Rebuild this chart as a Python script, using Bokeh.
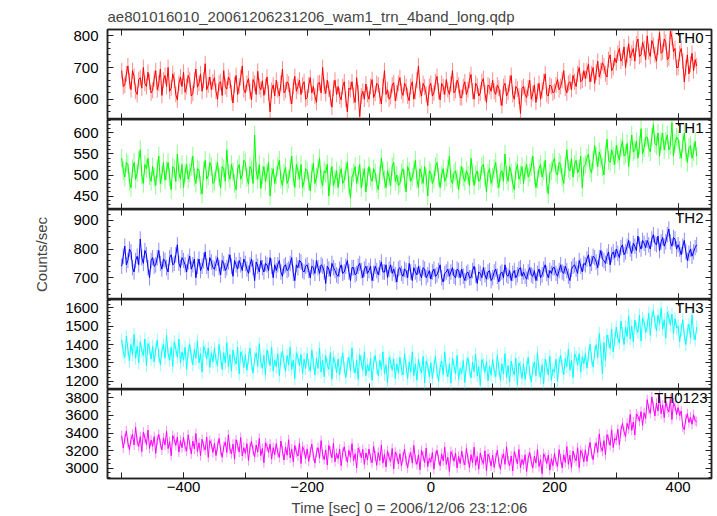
from bokeh.plotting import figure
from bokeh.models import LinearAxis, SingleIntervalTicker, Range1d, Label
from bokeh.layouts import column
from bokeh.embed import file_html
from bokeh.resources import INLINE

# ---- data (2.5 s sampling) ----
times = [-500 + 2.5 * k for k in range(373)]

th0 = [
    690,640, 645,680, 705,658, 630,690, 672,625, 615,662, 668,635, 700,650, 640,685, 655,620,
    628,665, 690,630, 650,695, 612,660, 675,640, 700,625, 635,680, 660,615, 598,650, 670,640,
    685,622, 640,675, 662,610, 618,660, 695,638, 650,680, 625,660, 712,630, 645,670, 630,655,
    668,625, 600,650, 655,612, 690,640, 632,670, 660,620, 588,645, 675,615, 642,668, 705,630,
    620,650, 665,625, 598,662, 650,615, 688,640, 630,658, 612,640, 670,620, 560,628, 645,610,
    660,630, 610,650, 695,620, 628,655, 648,610, 585,640, 672,625, 640,660, 615,645, 655,600,
    605,645, 668,620, 640,610, 590,650, 652,620, 700,640, 618,660, 632,605, 575,635, 660,615,
    640,610, 598,640, 655,600, 560,635, 630,655, 612,590, 668,620, 545,610, 625,600, 648,615,
    600,640, 662,605, 618,650, 645,610, 585,640, 690,615, 630,600, 608,645, 652,595, 620,650,
    668,625, 612,650, 640,610, 595,640, 655,600, 625,660, 705,630, 610,650, 638,615, 580,640,
    650,610, 620,655, 672,625, 598,650, 640,615, 662,630, 615,648, 690,620, 628,660, 645,605,
    605,640, 655,615, 630,660, 678,625, 600,650, 642,610, 620,655, 665,620, 590,645, 640,625,
    660,625, 615,645, 635,605, 580,640, 650,610, 622,650, 675,615, 600,640, 632,610, 555,635,
    640,615, 605,635, 660,600, 618,645, 590,625, 650,600, 628,655, 680,615, 610,645, 640,620,
    625,645, 662,630, 640,660, 690,635, 620,650, 655,630, 675,655, 640,680, 700,655, 660,690,
    665,690, 710,655, 680,700, 650,685, 720,670, 690,715, 705,680, 670,725, 740,690, 700,730,
    715,745, 760,720, 730,765, 700,740, 775,730, 745,760, 720,775, 790,735, 740,780, 760,725,
    800,750, 735,785, 770,740, 720,765, 810,745, 750,790, 780,725, 730,815, 795,750, 760,700,
    700,745, 760,720, 655,700, 740,680, 710,745, 690,725, 705,
]
th1 = [
    540,510, 495,530, 525,485, 470,515, 530,490, 505,535, 560,500, 480,525, 515,540, 498,485,
    520,495, 475,515, 545,480, 500,530, 488,510, 530,495, 465,520, 515,485, 550,505, 490,525,
    470,505, 525,490, 505,520, 545,495, 480,515, 512,475, 455,510, 535,490, 498,530, 520,480,
    485,510, 530,495, 470,520, 515,485, 560,505, 490,525, 508,480, 465,515, 525,490, 500,535,
    530,495, 478,520, 512,480, 595,510, 490,525, 468,500, 520,485, 505,530, 450,495, 515,480,
    500,520, 535,490, 475,505, 518,480, 490,515, 545,495, 470,525, 510,490, 525,470, 485,515,
    510,485, 462,505, 528,480, 495,515, 540,490, 475,510, 505,525, 450,495, 520,475, 490,510,
    470,500, 515,480, 488,510, 530,475, 445,495, 505,520, 480,500, 525,470, 495,515, 460,495,
    520,495, 485,515, 505,480, 465,500, 540,510, 490,470, 510,495, 475,520, 530,485, 500,475,
    480,505, 515,490, 460,520, 508,485, 495,510, 535,490, 470,515, 500,480, 520,495, 450,510,
    505,480, 490,520, 530,495, 470,500, 515,485, 495,515, 545,490, 480,505, 510,490, 465,500,
    520,495, 485,510, 500,475, 540,505, 475,500, 510,485, 490,520, 525,495, 460,505, 515,480,
    495,515, 530,490, 470,505, 510,485, 550,500, 485,520, 505,480, 465,510, 525,490, 500,520,
    480,510, 525,495, 505,520, 545,500, 470,490, 515,525, 495,510, 535,480, 455,505, 510,530,
    540,505, 500,530, 525,495, 480,520, 560,515, 510,540, 495,525, 535,505, 515,545, 470,520,
    525,540, 550,515, 505,535, 570,545, 520,555, 540,520, 500,550, 585,535, 530,560, 545,525,
    570,550, 535,565, 580,545, 550,575, 520,560, 595,555, 560,580, 540,570, 610,550, 565,590,
    590,565, 555,590, 620,575, 570,600, 545,580, 600,560, 580,595, 560,570, 625,545, 575,590,
    585,560, 540,575, 600,555, 530,565, 570,540, 555,580, 545,
]
th2 = [
    740,775, 810,745, 760,800, 790,735, 720,760, 775,745, 835,770, 750,795, 780,735, 700,760,
    770,740, 745,770, 795,750, 730,765, 760,735, 720,770, 780,745, 750,780, 815,750, 735,770,
    760,745, 720,755, 775,730, 745,765, 700,740, 765,725, 740,760, 790,740, 725,770, 755,735,
    730,750, 770,735, 710,760, 750,725, 735,755, 780,740, 705,760, 745,730, 760,745, 725,765,
    750,730, 715,745, 765,735, 690,755, 740,720, 760,735, 720,750, 745,725, 770,740, 700,745,
    725,745, 760,720, 705,740, 745,725, 730,750, 770,715, 690,745, 735,760, 755,725, 720,740,
    745,725, 700,740, 735,715, 760,735, 715,745, 740,720, 680,740, 730,705, 750,735, 725,710,
    705,730, 745,715, 720,740, 760,720, 690,735, 735,710, 715,740, 750,725, 700,730, 740,715,
    725,740, 690,715, 740,725, 710,735, 755,720, 720,745, 700,730, 745,715, 730,710, 685,730,
    735,715, 705,730, 725,700, 750,720, 690,735, 720,710, 740,715, 700,735, 730,700, 710,725,
    695,720, 730,705, 710,725, 745,700, 685,715, 720,730, 705,720, 735,705, 700,730, 725,700,
    730,705, 690,715, 720,700, 700,725, 740,710, 680,720, 715,700, 735,710, 695,720, 725,690,
    700,720, 730,705, 685,715, 720,700, 745,710, 705,725, 690,715, 725,700, 710,730, 735,705,
    720,705, 695,720, 735,710, 705,725, 690,715, 730,700, 710,730, 745,715, 700,725, 715,735,
    735,715, 705,725, 745,720, 715,740, 725,705, 690,730, 740,745, 730,715, 760,740, 720,750,
    745,765, 780,740, 750,775, 770,755, 735,770, 795,765, 760,750, 775,790, 745,780, 790,770,
    800,785, 770,805, 815,780, 790,810, 830,800, 785,820, 810,795, 845,815, 800,830, 820,805,
    830,815, 800,835, 850,820, 815,845, 795,825, 840,810, 825,850, 870,825, 810,840, 835,800,
    815,800, 780,810, 830,790, 760,785, 800,775, 790,805, 815,
]
th3 = [
    1425,1360,1330,1445,1375,1310,1400,1345,1455,1325,1390,1300,1415,1365,1340,1430,1285,1405,1380,1320,
    1390,1305,1370,1425,1340,1290,1365,1400,1325,1450,1350,1315,1385,1280,1415,1375,1330,1430,1300,1360,
    1315,1385,1265,1360,1400,1335,1290,1375,1325,1420,1300,1350,1250,1390,1365,1320,1380,1275,1355,1305,
    1380,1315,1285,1400,1330,1265,1355,1300,1410,1280,1345,1255,1370,1320,1295,1385,1240,1360,1335,1275,
    1345,1260,1325,1380,1295,1245,1320,1355,1280,1405,1305,1270,1340,1235,1370,1330,1285,1385,1255,1315,
    1280,1350,1230,1325,1365,1300,1255,1340,1290,1385,1265,1315,1215,1355,1330,1285,1345,1240,1320,1270,
    1350,1285,1255,1370,1300,1235,1325,1270,1380,1250,1315,1225,1340,1290,1265,1355,1210,1330,1305,1245,
    1320,1235,1300,1355,1270,1220,1295,1330,1255,1380,1280,1245,1315,1210,1345,1305,1260,1360,1230,1290,
    1255,1325,1205,1300,1340,1275,1230,1315,1265,1360,1240,1290,1190,1330,1305,1260,1320,1215,1295,1245,
    1330,1265,1235,1350,1280,1215,1305,1250,1360,1230,1295,1205,1320,1270,1245,1335,1190,1310,1285,1225,
    1300,1215,1280,1335,1250,1200,1275,1310,1235,1360,1260,1225,1295,1190,1325,1285,1240,1340,1210,1270,
    1243,1313,1193,1288,1328,1263,1218,1303,1253,1348,1228,1278,1178,1318,1293,1248,1308,1203,1283,1233,
    1320,1255,1225,1340,1270,1205,1295,1240,1350,1220,1285,1195,1310,1260,1235,1325,1180,1300,1275,1215,
    1295,1210,1275,1330,1245,1195,1270,1305,1230,1355,1255,1220,1290,1185,1320,1280,1235,1335,1205,1265,
    1250,1320,1200,1300,1340,1280,1235,1325,1280,1375,1260,1315,1220,1350,1330,1290,1350,1250,1335,1295,
    1350,1271,1341,1402,1322,1278,1358,1399,1329,1460,1365,1240,1411,1312,1452,1418,1378,1484,1359,1425,
    1495,1434,1408,1527,1461,1400,1494,1443,1557,1431,1500,1414,1533,1487,1466,1560,1419,1543,1522,1466,
    1500,1570,1450,1545,1585,1520,1475,1560,1510,1598,1485,1535,1435,1575,1550,1505,1565,1460,1540,1490,
    1500,1415,1480,1535,1450,1400,1475,1510,1435,1560,1460,1425,1495,
]
th0123 = [
    3370,3230,3335,3425,3290,3210,3330,3385,3265,3465,3305,3250,3360,3190,3410,3345,3270,3435,3225,3320,
    3250,3360,3170,3320,3385,3280,3210,3345,3265,3420,3225,3305,3145,3370,3330,3260,3355,3185,3315,3235,
    3350,3245,3195,3380,3270,3165,3310,3220,3395,3190,3290,3145,3330,3250,3210,3355,3125,3315,3275,3180,
    3285,3145,3250,3340,3205,3125,3245,3300,3180,3380,3220,3165,3275,3105,3325,3260,3185,3350,3140,3235,
    3170,3280,3090,3240,3305,3200,3130,3265,3185,3340,3145,3225,3065,3290,3250,3180,3275,3105,3235,3155,
    3280,3175,3125,3310,3200,3095,3240,3150,3325,3120,3220,3075,3260,3180,3140,3285,3055,3245,3205,3110,
    3220,3080,3185,3275,3140,3060,3180,3235,3115,3315,3155,3100,3210,3040,3260,3195,3120,3285,3075,3170,
    3110,3220,3030,3180,3245,3140,3070,3205,3125,3280,3085,3165,3005,3230,3190,3120,3215,3045,3175,3095,
    3220,3115,3065,3250,3140,3035,3180,3090,3265,3060,3160,3015,3200,3120,3080,3225,2995,3185,3145,3050,
    3165,3025,3130,3220,3085,3005,3125,3180,3060,3260,3100,3045,3155,2985,3205,3140,3065,3230,3020,3115,
    3070,3180,2990,3140,3205,3100,3030,3165,3085,3240,3045,3125,2965,3190,3150,3080,3175,3005,3135,3055,
    3195,3090,3040,3225,3115,3010,3155,3065,3240,3035,3135,2990,3175,3095,3055,3200,2970,3160,3120,3025,
    3150,3010,3115,3205,3070,2990,3110,3165,3045,3245,3085,3030,3140,2970,3190,3125,3050,3215,3005,3100,
    3045,3155,2965,3115,3180,3075,3005,3140,3060,3215,3020,3100,2940,3165,3125,3055,3150,2980,3110,3030,
    3170,3069,3023,3212,3106,3005,3154,3068,3247,3046,3150,3009,3198,3122,3086,3235,3009,3203,3167,3076,
    3210,3080,3194,3294,3168,3098,3227,3292,3181,3391,3240,3195,3314,3154,3383,3328,3262,3437,3236,3341,
    3320,3444,3267,3431,3510,3418,3362,3511,3445,3613,3432,3526,3379,3618,3592,3536,3644,3488,3632,3565,
    3780,3675,3625,3810,3700,3595,3740,3650,3825,3620,3720,3575,3760,3680,3640,3785,3555,3745,3705,3610,
    3690,3600,3650,3470,3440,3560,3620,3520,3580,3500,3610,3540,3530,
]

panel_names = ["TH0", "TH1", "TH2", "TH3", "TH0123"]
panel_series = [th0, th1, th2, th3, th0123]
panel_errors = [25, 22, 27, 36, 57]   # 1-sigma error bar half-length (counts/sec)
panel_colors = ["#ff0000", "#00ff00", "#0000ff", "#00ffff", "#ff00ff"]
panel_yranges = [(536, 820), (418, 632), (624, 938), (1155, 1645), (2885, 3895)]
panel_yticks = [(100, 5), (50, 5), (100, 5), (100, 5), (200, 4)]

title_text = "ae801016010_20061206231206_wam1_trn_4band_long.qdp"
x_label = "Time [sec] 0 = 2006/12/06 23:12:06"
y_label = "Counts/sec"
x_range = (-523, 454)

FONT = "Liberation Sans"
FS = "15px"
AX = "#222222"
FRAME_W = 604


def style(ax, labels, interval, minor, minor_len=3):
    ax.ticker = SingleIntervalTicker(interval=interval, num_minor_ticks=minor)
    ax.axis_line_color = AX
    ax.axis_line_width = 1.5
    ax.major_tick_line_color = AX
    ax.minor_tick_line_color = AX
    ax.major_tick_in = 6
    ax.major_tick_out = 0
    ax.minor_tick_in = minor_len
    ax.minor_tick_out = 0
    ax.major_label_text_font = FONT
    ax.major_label_text_color = "black"
    if labels:
        ax.major_label_text_font_size = FS
    else:
        ax.major_label_text_font_size = "0px"
        ax.major_label_text_color = None
        ax.major_label_standoff = 0


figs = []
n = len(panel_names)
for i in range(n):
    first = i == 0
    last = i == n - 1
    fh = 90 if not last else 89
    p = figure(
        frame_width=FRAME_W,
        frame_height=fh,
        output_backend="svg",
        toolbar_location=None,
        x_axis_location=None,
        y_axis_location=None,
        min_border_left=107,
        min_border_right=6,
        min_border_top=27 if first else 0,
        min_border_bottom=0,
        background_fill_color="white",
        border_fill_color="white",
        outline_line_color=AX,
        outline_line_width=1.5,
    )
    p.x_range = Range1d(*x_range)
    p.y_range = Range1d(*panel_yranges[i])
    p.xgrid.visible = False
    p.ygrid.visible = False

    if first:
        p.title.text = title_text
        p.title.text_font = FONT
        p.title.text_font_size = FS
        p.title.text_font_style = "normal"
        p.title.standoff = 10
        p.title.offset = 0

    left = LinearAxis()
    style(left, True, *panel_yticks[i])
    left.major_label_standoff = 9
    if i == 2:
        left.axis_label = y_label
        left.axis_label_text_font = FONT
        left.axis_label_text_font_size = FS
        left.axis_label_text_font_style = "normal"
        left.axis_label_standoff = 20
    p.add_layout(left, "left")

    right = LinearAxis()
    style(right, False, *panel_yticks[i])
    p.add_layout(right, "right")

    top = LinearAxis()
    style(top, False, 200, 2, minor_len=6)
    p.add_layout(top, "above")

    bottom = LinearAxis()
    style(bottom, last, 200, 2, minor_len=6)
    if last:
        bottom.major_label_standoff = 3
        bottom.axis_label = x_label
        bottom.axis_label_text_font = FONT
        bottom.axis_label_text_font_size = FS
        bottom.axis_label_text_font_style = "normal"
        bottom.axis_label_standoff = 4
    p.add_layout(bottom, "below")

    vals = panel_series[i]
    err = panel_errors[i]
    p.segment(x0=times, y0=[v - err for v in vals], x1=times, y1=[v + err for v in vals],
              line_color=panel_colors[i], line_alpha=0.45, line_width=1)
    p.line(times, vals, line_color=panel_colors[i], line_width=1)

    p.add_layout(Label(x=FRAME_W - (4 if last else 8), y=fh + 1,
                       x_units="screen", y_units="screen",
                       text=panel_names[i], text_align="right", text_baseline="top",
                       text_font=FONT, text_font_size=FS, text_color="black"))
    figs.append(p)

layout = column(*figs, spacing=0)
open("out.html", "w").write(file_html(layout, INLINE))
